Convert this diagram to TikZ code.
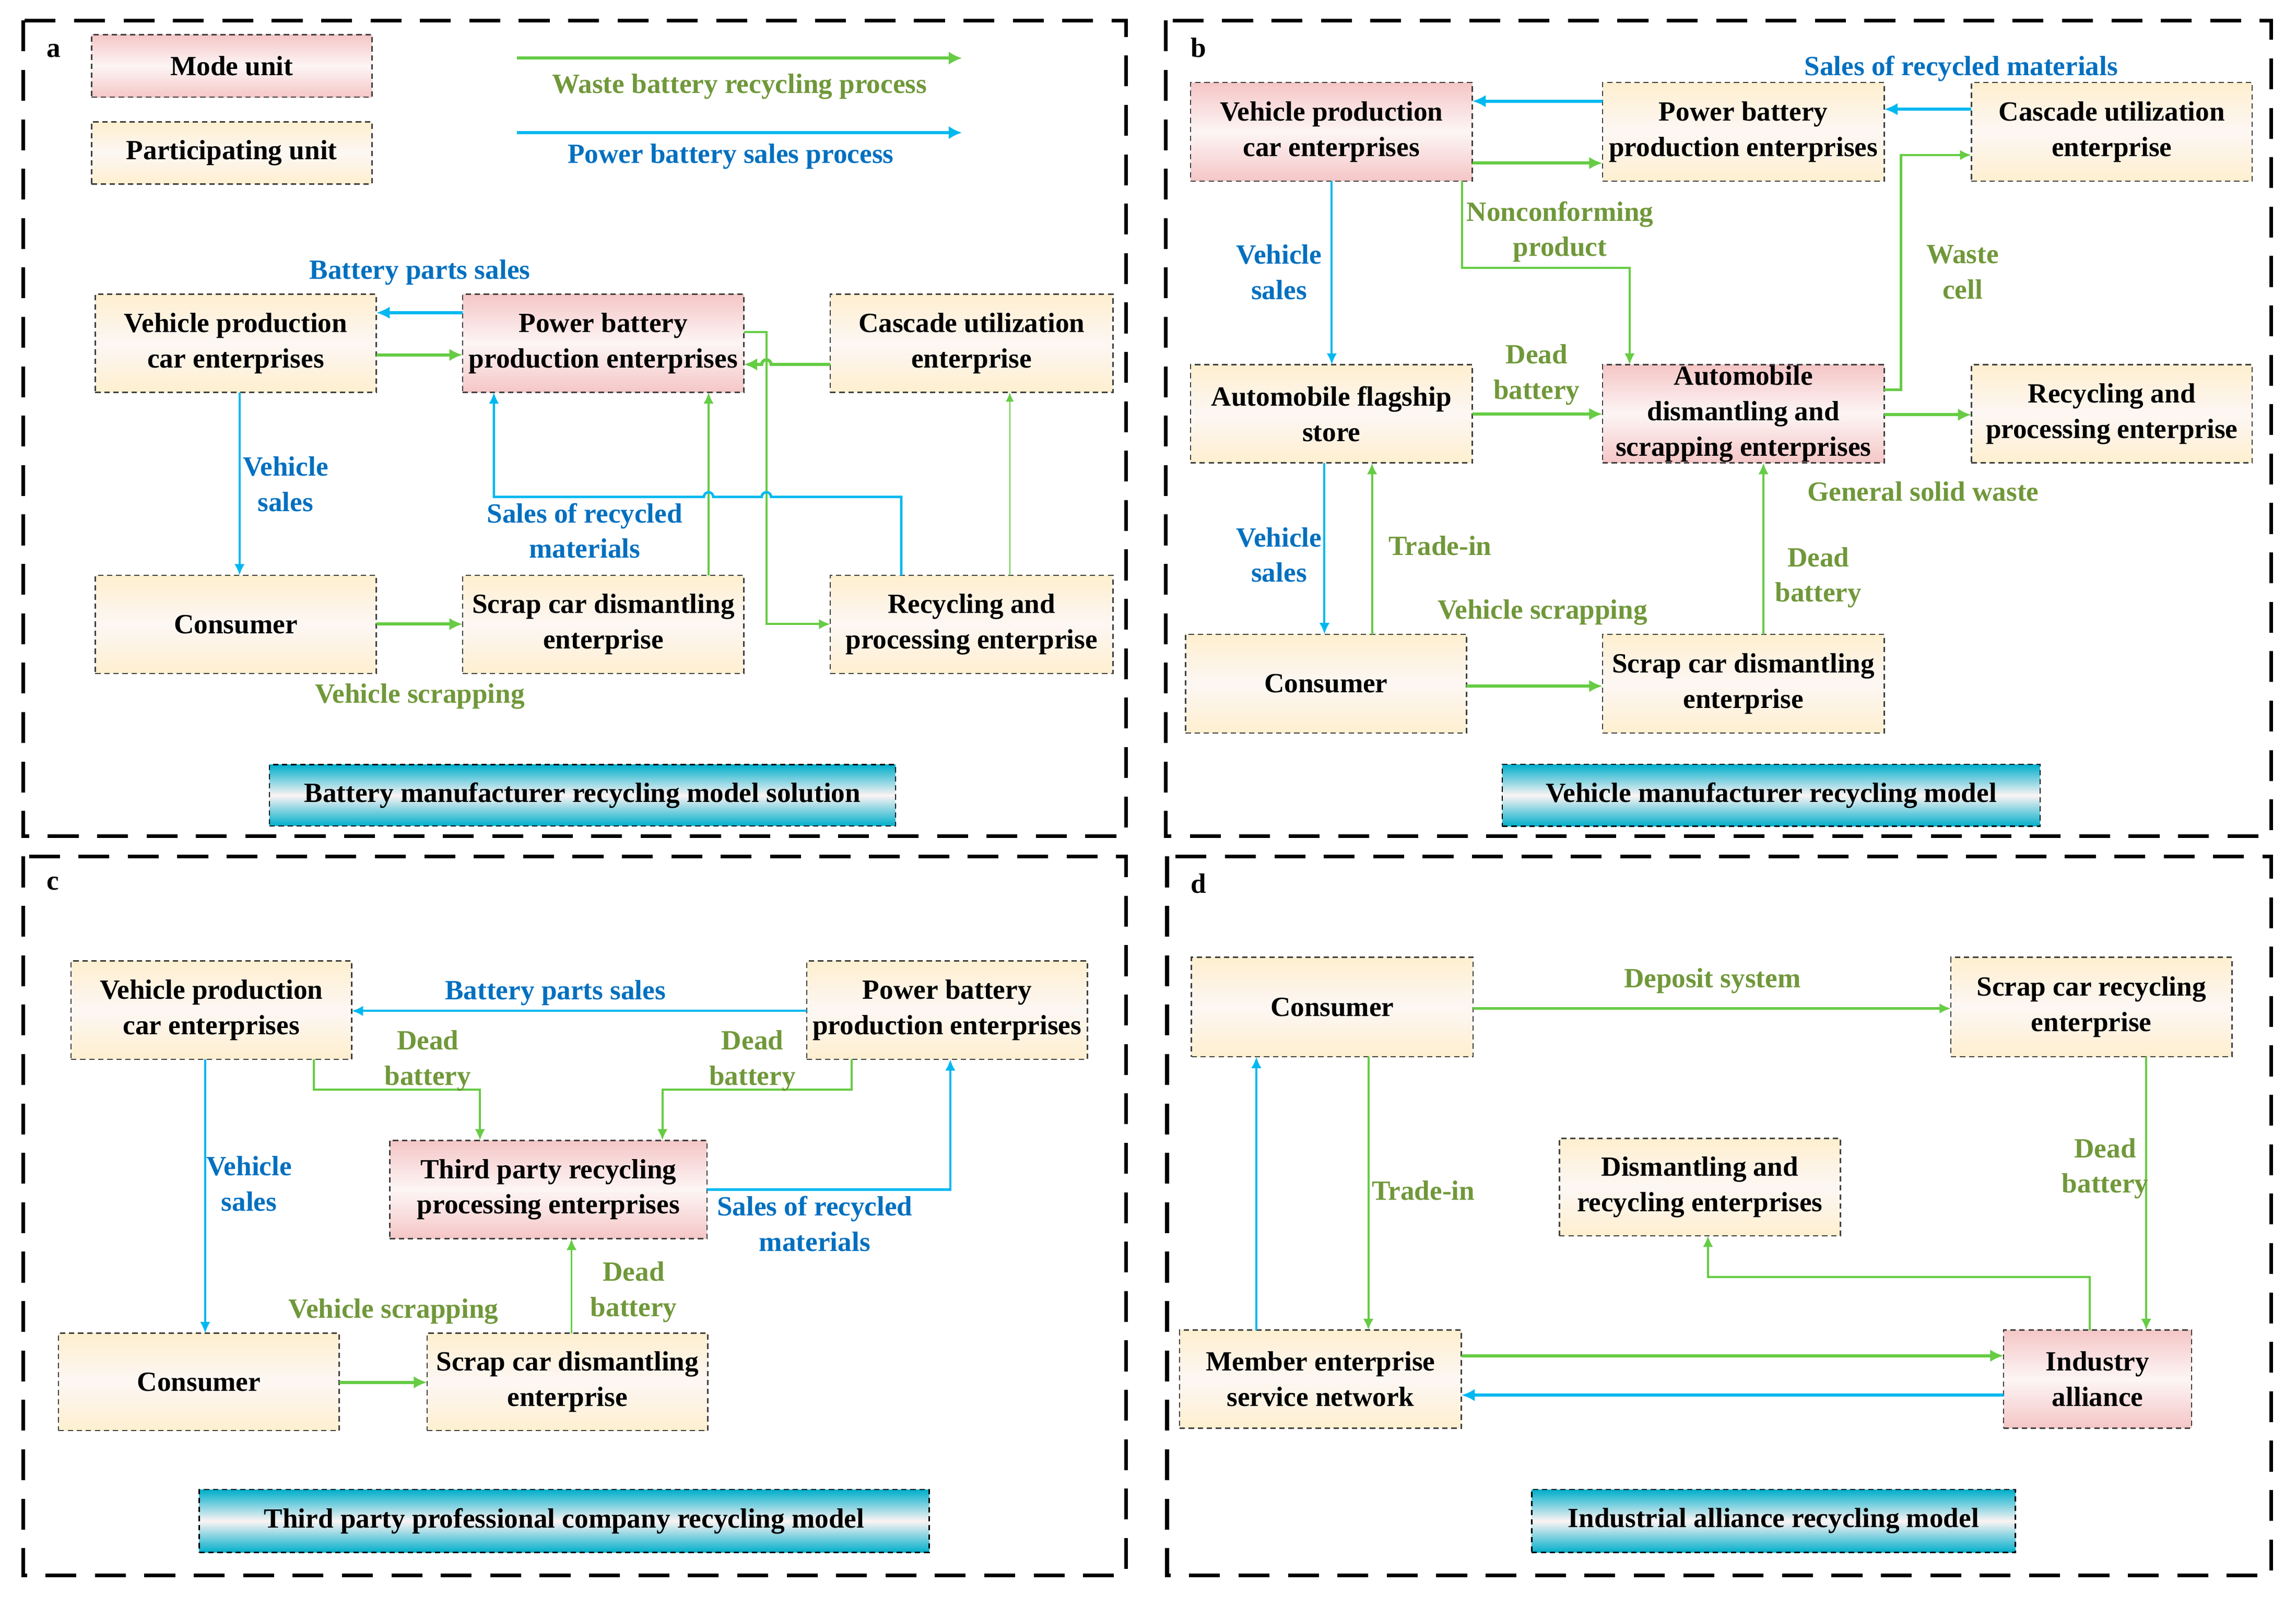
\documentclass[tikz,border=0pt]{standalone}
\usepackage{fontspec}
\setmainfont{Liberation Serif}
\usetikzlibrary{arrows.meta}
\definecolor{GA}{HTML}{66CC44}
\definecolor{GT}{HTML}{70983A}
\definecolor{BA}{HTML}{00B8F0}
\definecolor{BT}{HTML}{0070C0}
\definecolor{PK}{HTML}{F5C6C6}
\definecolor{PKm}{HTML}{FDF5F5}
\definecolor{CR}{HTML}{FEEFCF}
\definecolor{CRm}{HTML}{FDF7F4}
\definecolor{TL}{HTML}{00AECB}
\definecolor{TLm}{HTML}{FCF4F4}
\definecolor{BD}{HTML}{404040}
\newcommand\mkbox[7]{\node[#6, minimum width={(#4-#2)*0.25mm}, minimum height={(#5-#3)*0.25mm}] (#1) at ({(#2+#4)/2},{(#3+#5)/2}) {#7};}
\begin{document}
\begin{tikzpicture}[x=0.25mm,y=-0.25mm,
  txt/.style={font=\fontsize{13.5}{17.2}\selectfont\bfseries, align=center, inner sep=0pt},
  bx/.style={txt, rectangle, draw=BD, line width=0.65pt, dash pattern=on 2.6pt off 1.8pt, outer sep=0pt},
  yb/.style={bx, top color=CR, bottom color=CR, middle color=CRm},
  pb/.style={bx, top color=PK, bottom color=PK, middle color=PKm},
  tb/.style={txt, rectangle, draw=black, line width=0.65pt, dash pattern=on 2.6pt off 1.8pt, outer sep=0pt, top color=TL, bottom color=TL, middle color=TLm},
  gl/.style={txt, text=GT},
  bl/.style={txt, text=BT},
  kl/.style={txt, text=black},
  ga/.style={draw=GA, line width=1pt, -{Latex[length=5.5pt,width=5pt]}},
  gaT/.style={draw=GA, line width=1.5pt, -{Latex[length=6.5pt,width=6pt]}},
  gat/.style={draw=GA, line width=0.6pt, -{Latex[length=4.5pt,width=4pt]}},
  ba/.style={draw=BA, line width=1pt, -{Latex[length=5.5pt,width=5pt]}},
  baT/.style={draw=BA, line width=1.5pt, -{Latex[length=6.5pt,width=6pt]}},
  frm/.style={draw=black, line width=1.8pt, dash pattern=on 15pt off 9pt}
]
\useasboundingbox (0,0) rectangle (1568,1097.3);

% panel frames
\draw[frm] (16,14) rectangle (769,571);
\draw[frm] (796,14) rectangle (1551,571);
\draw[frm] (16,585) rectangle (769,1076);
\draw[frm] (797,585) rectangle (1551,1076);

%================ panel a ================
\node[kl] (la) at (36.5,34.6) {a};
\mkbox{legM}{62.5}{23.7}{254}{66.4}{pb}{Mode unit}
\mkbox{legP}{62.5}{83.2}{254}{125.6}{yb}{Participating unit}
\coordinate (lg1) at (353,39.7);
\coordinate (lg2) at (657,39.7);
\coordinate (lb1) at (353,90.6);
\coordinate (lb2) at (657,90.6);
\draw[draw=GA, line width=1.6pt, -{Latex[length=6.5pt,width=6.5pt]}] (lg1) -- (lg2);
\draw[draw=BA, line width=1.6pt, -{Latex[length=6.5pt,width=6.5pt]}] (lb1) -- (lb2);
\node[gl] (lgt) at (505,59) {Waste battery recycling process};
\node[bl] (lbt) at (499,107) {Power battery sales process};

\mkbox{aV}{65}{201}{257}{268}{yb}{Vehicle production\\car enterprises}
\mkbox{aP}{316}{201}{508}{268}{pb}{Power battery\\production enterprises}
\mkbox{aC}{567}{201}{760}{268}{yb}{Cascade utilization\\enterprise}
\mkbox{aCo}{65}{393}{257}{460}{yb}{Consumer}
\mkbox{aS}{316}{393}{508}{460}{yb}{Scrap car dismantling\\enterprise}
\mkbox{aR}{567}{393}{760}{460}{yb}{Recycling and\\processing enterprise}
\mkbox{aT}{184}{522.3}{611.5}{564.1}{tb}{Battery manufacturer recycling model solution}

\draw[baT] (aP.west |- 0,213.6) -- (aV.east |- 0,213.6);
\draw[gaT] (aV.east |- 0,242.4) -- (aP.west |- 0,242.4);
\draw[ba] (aV.south -| 163.6,0) -- (aCo.north -| 163.6,0);
\draw[gaT] (aCo.east |- 0,426.3) -- (aS.west |- 0,426.3);
\draw[ga] (aS.north -| 483.9,0) -- (aP.south -| 483.9,0);
\draw[gaT] (aC.west |- 0,248.9) -- (526.6,248.9) arc[start angle=0,end angle=180,radius=0.8mm] -- (aP.east |- 0,248.9);
\draw[ga] (aP.east |- 0,226.7) -| (523.4,426.3) -- (aR.west |- 0,426.3);
\draw[ba, line width=1.2pt] (aR.north -| 615.5,0) -- (615.5,339.4) -- (526.6,339.4) arc[start angle=0,end angle=180,radius=0.8mm] -- (487.1,339.4) arc[start angle=0,end angle=180,radius=0.8mm] -- (337.3,339.4) -- (aP.south -| 337.3,0);
\draw[gat] (aR.north -| 689.6,0) -- (aC.south -| 689.6,0);

\node[bl] (a1) at (286.7,186) {Battery parts sales};
\node[bl] (a2) at (195,330.7) {Vehicle\\sales};
\node[gl] (a3) at (286.7,475.7) {Vehicle scrapping};
\node[bl] (a4) at (399.3,362.5) {Sales of recycled\\materials};

%================ panel b ================
\node[kl] (lb) at (818.6,32.4) {b};
\mkbox{bV}{813}{56.4}{1005.5}{123.7}{pb}{Vehicle production\\car enterprises}
\mkbox{bP}{1094.4}{56.4}{1286.8}{123.7}{yb}{Power battery\\production enterprises}
\mkbox{bC}{1346.3}{56.4}{1538.1}{123.7}{yb}{Cascade utilization\\enterprise}
\mkbox{bF}{813}{249.1}{1005.5}{316.2}{yb}{Automobile flagship\\store}
\mkbox{bA}{1094.4}{249.1}{1286.8}{316.2}{pb}{Automobile\\dismantling and\\scrapping enterprises}
\mkbox{bR}{1346.3}{249.1}{1538.1}{316.2}{yb}{Recycling and\\processing enterprise}
\mkbox{bCo}{809.6}{433.2}{1001.5}{500.6}{yb}{Consumer}
\mkbox{bS}{1094.4}{433.2}{1286.8}{500.6}{yb}{Scrap car dismantling\\enterprise}
\mkbox{bT}{1026}{522.1}{1393.2}{564.4}{tb}{Vehicle manufacturer recycling model}

\draw[baT] (bP.west |- 0,69.1) -- (bV.east |- 0,69.1);
\draw[gaT] (bV.east |- 0,111.4) -- (bP.west |- 0,111.4);
\draw[baT] (bC.west |- 0,74.6) -- (bP.east |- 0,74.6);
\draw[ga, line width=1.2pt] (bA.east |- 0,266.1) -| (1298.3,105.9) -- (bC.west |- 0,105.9);
\draw[ga] (bV.south -| 998.5,0) |- (1112.9,182.9) -- (bA.north -| 1112.9,0);
\draw[ba] (bV.south -| 909.5,0) -- (bF.north -| 909.5,0);
\draw[gaT] (bF.east |- 0,282.8) -- (bA.west |- 0,282.8);
\draw[gaT] (bA.east |- 0,283.3) -- (bR.west |- 0,283.3);
\draw[ba] (bF.south -| 904.5,0) -- (bCo.north -| 904.5,0);
\draw[ga] (bCo.north -| 937,0) -- (bF.south -| 937,0);
\draw[gaT] (bCo.east |- 0,468.6) -- (bS.west |- 0,468.6);
\draw[ga] (bS.north -| 1204.3,0) -- (bA.south -| 1204.3,0);

\node[bl] (b1) at (1339.3,46.9) {Sales of recycled materials};
\node[gl] (b2) at (1340.3,186) {Waste\\cell};
\node[gl] (b3) at (1065.4,158.3) {Nonconforming\\product};
\node[bl] (b4) at (873.5,185.9) {Vehicle\\sales};
\node[gl] (b5) at (1049.4,256) {Dead\\battery};
\node[gl] (b6) at (1313.3,335.8) {General solid waste};
\node[bl] (b7) at (873.5,379) {Vehicle\\sales};
\node[gl] (b8) at (983.5,372.8) {Trade-in};
\node[gl] (b9) at (1053.4,418.2) {Vehicle scrapping};
\node[gl] (b10) at (1241.8,394.5) {Dead\\battery};

%================ panel c ================
\node[kl] (lc) at (36,603.5) {c};
\mkbox{cV}{48.5}{656.3}{240.2}{723.5}{yb}{Vehicle production\\car enterprises}
\mkbox{cP}{551}{656.3}{742.6}{723.5}{yb}{Power battery\\production enterprises}
\mkbox{cT}{266.2}{778.9}{482.9}{846.1}{pb}{Third party recycling\\processing enterprises}
\mkbox{cCo}{40}{910.6}{231.7}{977.1}{yb}{Consumer}
\mkbox{cS}{291.7}{910.6}{483.4}{977.1}{yb}{Scrap car dismantling\\enterprise}
\mkbox{cTi}{136.1}{1017.4}{634.5}{1060.4}{tb}{Third party professional company recycling model}

\draw[ba] (cP.west |- 0,690.5) -- (cV.east |- 0,690.5);
\draw[ga] (cV.south -| 214.2,0) |- (327.8,744.3) -- (cT.north -| 327.8,0);
\draw[ga] (cP.south -| 581.5,0) |- (452.4,744.3) -- (cT.north -| 452.4,0);
\draw[ba] (cV.south -| 140.1,0) -- (cCo.north -| 140.1,0);
\draw[ba, line width=1.2pt] (cT.east |- 0,812.5) -| (cP.south -| 649,0);
\draw[gaT] (cCo.east |- 0,944.2) -- (cS.west |- 0,944.2);
\draw[ga] (cS.north -| 390.3,0) -- (cT.south -| 390.3,0);

\node[bl] (c1) at (379.3,678.1) {Battery parts sales};
\node[gl] (c2) at (292.2,724.5) {Dead\\battery};
\node[gl] (c3) at (513.9,724.5) {Dead\\battery};
\node[bl] (c4) at (170.1,808.6) {Vehicle\\sales};
\node[bl] (c5) at (556.4,836) {Sales of recycled\\materials};
\node[gl] (c6) at (268.7,895.8) {Vehicle scrapping};
\node[gl] (c7) at (432.8,882.5) {Dead\\battery};

%================ panel d ================
\node[kl] (ld) at (818.6,603.5) {d};
\mkbox{dCo}{813.6}{653.9}{1006}{721.8}{yb}{Consumer}
\mkbox{dS}{1332.3}{653.9}{1524.2}{721.8}{yb}{Scrap car recycling\\enterprise}
\mkbox{dD}{1064.9}{777.5}{1256.8}{844}{yb}{Dismantling and\\recycling enterprises}
\mkbox{dM}{805.6}{908.5}{998}{975.4}{yb}{Member enterprise\\service network}
\mkbox{dI}{1368.3}{908.5}{1496.7}{975.4}{pb}{Industry\\alliance}
\mkbox{dT}{1046}{1017.4}{1376.3}{1060.4}{tb}{Industrial alliance recycling model}

\draw[ga, line width=1.2pt] (dCo.east |- 0,688.8) -- (dS.west |- 0,688.8);
\draw[ga] (dCo.south -| 934.5,0) -- (dM.north -| 934.5,0);
\draw[ba, line width=1.2pt] (dM.north -| 858,0) -- (dCo.south -| 858,0);
\draw[ga] (dS.south -| 1465.7,0) -- (dI.north -| 1465.7,0);
\draw[ga] (dI.north -| 1427.2,0) |- (1166.4,872.3) -- (dD.south -| 1166.4,0);
\draw[gaT] (dM.east |- 0,926) -- (dI.west |- 0,926);
\draw[baT] (dI.west |- 0,952.9) -- (dM.east |- 0,952.9);

\node[gl] (d1) at (1169.4,670) {Deposit system};
\node[gl] (d2) at (972,813) {Trade-in};
\node[gl] (d3) at (1437.7,798.2) {Dead\\battery};
\end{tikzpicture}
\end{document}
